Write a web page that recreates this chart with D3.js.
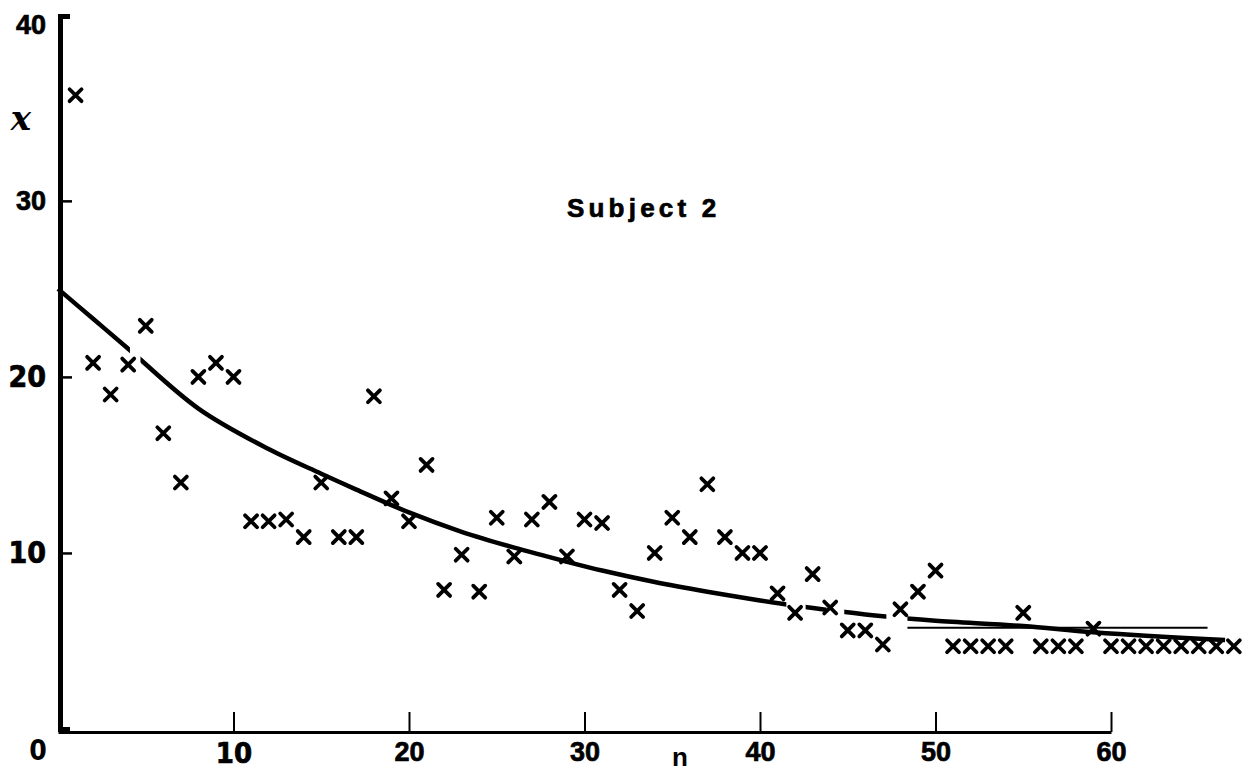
<!DOCTYPE html>
<html>
<head>
<meta charset="utf-8">
<script src="https://cdn.jsdelivr.net/npm/d3@7"></script>
<style>
  body { margin: 0; background: #fff; }
  svg { display: block; }
</style>
</head>
<body>
<svg id="chart"></svg>
<script>
/* Data */
const trials = d3.range(1, 68);
const errors = [
  36.0, 20.8, 19.0, 20.7, 22.9, 16.8, 14.0, 20.0, 20.8, 20.0,
  11.8, 11.8, 11.9, 10.9, 14.0, 10.9, 10.9, 18.9, 13.1, 11.8,
  15.0, 7.9, 9.9, 7.8, 12.0, 9.8, 11.9, 12.9, 9.8, 11.9,
  11.7, 7.9, 6.7, 10.0, 12.0, 10.9, 13.9, 10.9, 10.0, 10.0,
  7.7, 6.6, 8.8, 6.9, 5.6, 5.6, 4.8, 6.8, 7.8, 9.0,
  4.7, 4.7, 4.7, 4.7, 6.6, 4.7, 4.7, 4.7, 5.7, 4.7,
  4.7, 4.7, 4.7, 4.7, 4.7, 4.7, 4.7
];

/* fitted curve, read at a few points */
const fitN = [0, 2, 4, 8, 12, 15, 17, 20, 23, 26, 29, 31, 34, 37, 40, 42, 44, 47, 50, 55, 59, 66.5];
const fitX = [25.0, 23.3, 21.6, 18.2, 15.9, 14.5, 13.6, 12.3, 11.2, 10.3, 9.5, 9.0, 8.35, 7.8, 7.3, 7.0, 6.75, 6.4, 6.15, 5.85, 5.5, 5.05];
const fitGaps = [[4.1, 4.7], [41.5, 42.6], [43.8, 44.8], [47.2, 48.4]];

/* thin level line at the end */
const levelN = [48.4, 65.5];
const levelX = [5.75, 5.75];

const xTicks = [10, 20, 30, 40, 50, 60];
const yTicks = [10, 20, 30, 40];
const title = "Subject 2";

/* Size */
const width = 1256,
  height = 773;

const svg = d3.select("#chart").attr("width", width).attr("height", height);

/* Scales */
const xScale = d3.scaleLinear().domain([0, 60]).range([58, 1111]);
const yScale = d3.scaleLinear().domain([0, 40.5]).range([729, 16]);

const boldFont = "'Liberation Sans', Arial, sans-serif";
const narrowFont = "'Liberation Sans Narrow', 'DejaVu Sans Condensed', 'DejaVu Sans', sans-serif";
const narrowY = [10, 20];
const narrowX = [10];

/* heavier look for printed labels */
const heavy = (sel) => sel.attr("stroke", "#000").attr("stroke-width", 0.7);

/* Y axis, ticks pointing in */
const yAxis = d3
  .axisLeft(yScale)
  .tickValues(yTicks)
  .tickSizeInner(-12)
  .tickSizeOuter(-10)
  .tickPadding(14)
  .tickFormat(d3.format("d"));

const gy = svg.append("g").attr("transform", "translate(60,0)").call(yAxis);
gy.select(".domain").attr("stroke-width", 5);
gy.selectAll(".tick line").attr("stroke-width", 2.5);
gy.selectAll(".tick").filter((d) => d === 40).select("line").remove();
gy.selectAll(".tick text")
  .attr("font-family", (d) => (narrowY.includes(d) ? narrowFont : boldFont))
  .attr("font-weight", "bold")
  .attr("font-size", (d) => (narrowY.includes(d) ? 30 : 27))
  .style("font-stretch", (d) => (narrowY.includes(d) ? "condensed" : "normal"))
  .attr("fill", "#000")
  .call(heavy);

/* X axis, ticks pointing up */
const xAxis = d3
  .axisBottom(xScale)
  .tickValues(xTicks)
  .tickSizeInner(-20)
  .tickSizeOuter(0)
  .tickPadding(10)
  .tickFormat(d3.format("d"));

const gx = svg
  .append("g")
  .attr("transform", `translate(0,${yScale(0) + 3})`)
  .call(xAxis);
gx.select(".domain").attr("stroke-width", 3);
gx.selectAll(".tick line").attr("stroke-width", 2);
gx.selectAll(".tick text")
  .attr("font-family", (d) => (narrowX.includes(d) ? narrowFont : boldFont))
  .attr("font-weight", "bold")
  .attr("font-size", (d) => (narrowX.includes(d) ? 29 : 27))
  .style("font-stretch", (d) => (narrowX.includes(d) ? "condensed" : "normal"))
  .attr("fill", "#000")
  .call(heavy);

/* origin label and axis names */
svg
  .append("text")
  .attr("x", xScale(0) - 20)
  .attr("y", yScale(0) + 21)
  .attr("dy", "0.35em")
  .attr("text-anchor", "middle")
  .attr("font-family", narrowFont)
  .attr("font-weight", "bold")
  .attr("font-size", 28)
  .style("font-stretch", "condensed")
  .text("0");

svg
  .append("text")
  .attr("x", 680)
  .attr("y", 766)
  .attr("text-anchor", "middle")
  .attr("font-family", boldFont)
  .attr("font-weight", "bold")
  .attr("font-size", 26)
  .text("n");

svg
  .append("text")
  .attr("x", 21)
  .attr("y", 130)
  .attr("text-anchor", "middle")
  .attr("font-family", "'DejaVu Serif', serif")
  .attr("font-style", "italic")
  .attr("font-weight", "bold")
  .attr("font-size", 34)
  .text("x");

svg
  .append("text")
  .attr("x", 567)
  .attr("y", 217)
  .attr("font-family", boldFont)
  .attr("font-weight", "bold")
  .attr("font-size", 26)
  .attr("letter-spacing", 4.2)
  .text(title)
  .call(heavy);

/* Gaps where the fitted curve is broken */
const mask = svg.append("defs").append("mask").attr("id", "gapMask");
mask.append("rect").attr("width", width).attr("height", height).attr("fill", "#fff");
mask
  .selectAll("rect.gap")
  .data(fitGaps)
  .join("rect")
  .attr("class", "gap")
  .attr("x", (d) => xScale(d[0]))
  .attr("width", (d) => xScale(d[1]) - xScale(d[0]))
  .attr("y", 0)
  .attr("height", height)
  .attr("fill", "#000");

/* Fitted curve */
const line = d3
  .line()
  .x((d) => xScale(d[0]))
  .y((d) => yScale(d[1]))
  .curve(d3.curveCatmullRom);

svg
  .append("path")
  .datum(d3.zip(fitN, fitX))
  .attr("d", line)
  .attr("fill", "none")
  .attr("stroke", "#000")
  .attr("stroke-width", 4.5)
  .attr("mask", "url(#gapMask)");

svg
  .append("path")
  .datum(d3.zip(levelN, levelX))
  .attr("d", line)
  .attr("fill", "none")
  .attr("stroke", "#000")
  .attr("stroke-width", 2);

/* Data points as crosses */
svg
  .selectAll("path.mark")
  .data(trials)
  .join("path")
  .attr("class", "mark")
  .attr("d", d3.symbol(d3.symbolTimes, 95))
  .attr("transform", (d, i) => `translate(${xScale(d)},${yScale(errors[i])})`)
  .attr("fill", "none")
  .attr("stroke", "#000")
  .attr("stroke-width", 3.8)
  .attr("stroke-linecap", "round");
</script>
</body>
</html>
